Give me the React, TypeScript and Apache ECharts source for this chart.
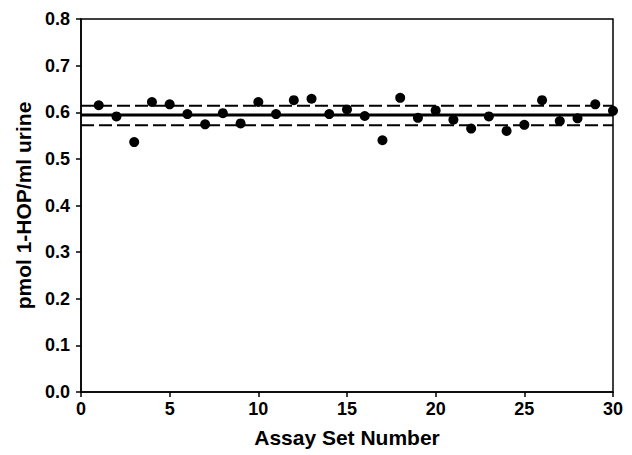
import React, { useEffect, useRef } from "react";
import * as echarts from "echarts";

const assaySets: number[] = [
  1, 2, 3, 4, 5, 6, 7, 8, 9, 10, 11, 12, 13, 14, 15,
  16, 17, 18, 19, 20, 21, 22, 23, 24, 25, 26, 27, 28, 29, 30,
];
const hopValues: number[] = [
  0.615, 0.591, 0.536, 0.622, 0.617, 0.596, 0.574, 0.598, 0.576, 0.622,
  0.596, 0.626, 0.629, 0.596, 0.606, 0.592, 0.54, 0.631, 0.588, 0.604,
  0.584, 0.565, 0.591, 0.56, 0.573, 0.626, 0.581, 0.587, 0.617, 0.603,
];
const meanValue = 0.594;
const upperLimit = 0.614;
const lowerLimit = 0.572;
const xRange: number[] = [0, 30];

const FONT = "'Liberation Sans', Arial, sans-serif";

export default function App() {
  const ref = useRef<HTMLDivElement>(null);
  useEffect(() => {
    if (!ref.current) return;
    const chart = echarts.init(ref.current, null, { renderer: "svg" });
    const hline = (v: number, type: any, width: number) => ({
      type: "line",
      data: xRange.map((x) => [x, v]),
      symbol: "none",
      silent: true,
      z: 1,
      lineStyle: { color: "#000", width, type, opacity: 1 },
    });
    chart.setOption({
      animation: false,
      backgroundColor: "#fff",
      grid: {
        left: 81,
        right: 19,
        top: 19,
        bottom: 63,
        show: true,
        borderColor: "#000",
        borderWidth: 1.5,
        backgroundColor: "transparent",
      },
      xAxis: {
        type: "value",
        min: 0,
        max: 30,
        interval: 5,
        name: "Assay Set Number",
        nameLocation: "middle",
        nameGap: 35,
        nameTextStyle: { fontFamily: FONT, fontWeight: "bold", fontSize: 21, color: "#000" },
        axisLine: { onZero: false, lineStyle: { color: "#000", width: 1.5 } },
        axisTick: { show: true, length: 5, lineStyle: { color: "#000", width: 1.5 } },
        axisLabel: { fontFamily: FONT, fontWeight: "bold", fontSize: 18, color: "#000", margin: 8 },
        splitLine: { show: false },
      },
      yAxis: {
        type: "value",
        min: 0,
        max: 0.8,
        interval: 0.1,
        name: "pmol 1-HOP/ml urine",
        nameLocation: "middle",
        nameGap: 41,
        nameTextStyle: { fontFamily: FONT, fontWeight: "bold", fontSize: 21, color: "#000" },
        axisLine: { onZero: false, lineStyle: { color: "#000", width: 1.5 } },
        axisTick: { show: true, length: 5, lineStyle: { color: "#000", width: 1.5 } },
        axisLabel: {
          fontFamily: FONT,
          fontWeight: "bold",
          fontSize: 18,
          color: "#000",
          margin: 11,
          formatter: (v: number) => v.toFixed(1),
        },
        splitLine: { show: false },
      },
      series: [
        hline(meanValue, "solid", 3),
        hline(upperLimit, [13, 5], 2),
        hline(lowerLimit, [13, 5], 2),
        {
          type: "scatter",
          data: assaySets.map((x, i) => [x, hopValues[i]]),
          symbol: "circle",
          symbolSize: 10,
          z: 5,
          itemStyle: { color: "#000", opacity: 1 },
        },
      ],
    });
    return () => chart.dispose();
  }, []);
  return (
    <div
      ref={ref}
      style={{ position: "absolute", left: 0, top: 0, width: 632, height: 455 }}
    />
  );
}
